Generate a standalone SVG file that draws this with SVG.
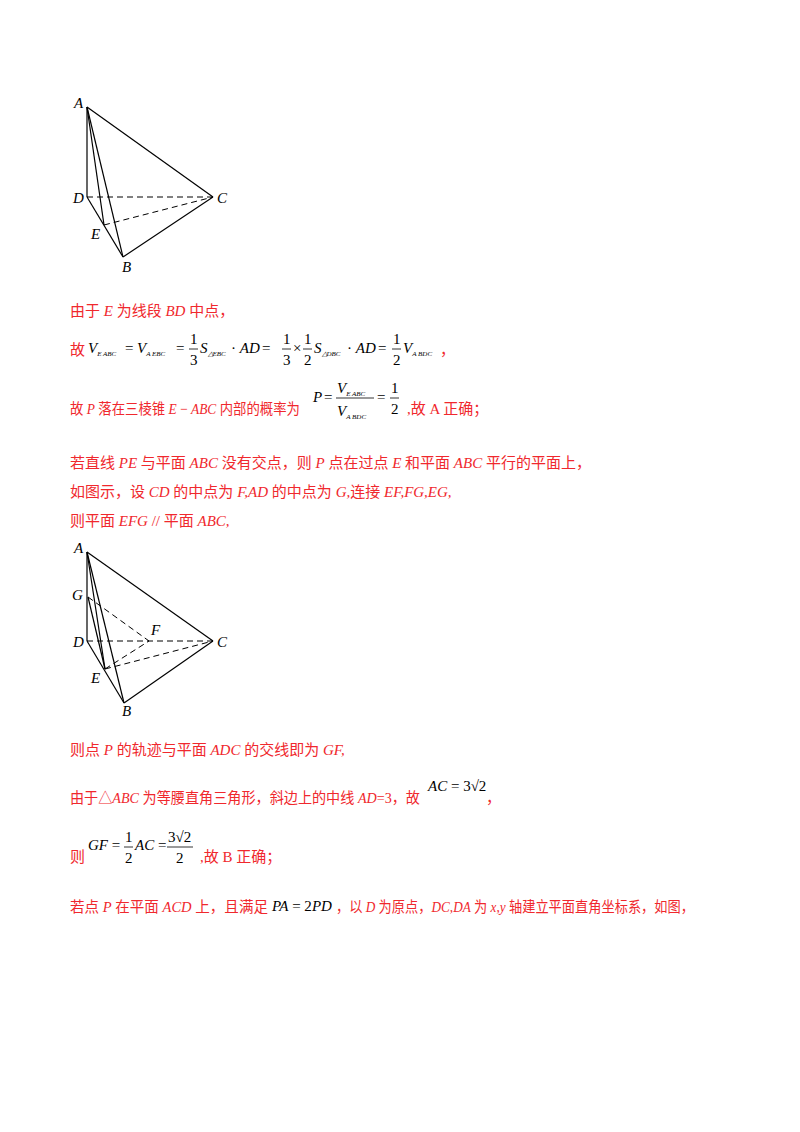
<svg xmlns="http://www.w3.org/2000/svg" width="800" height="1132" viewBox="0 0 800 1132">
<style>
.l{stroke:#000;stroke-width:1.2;fill:none}
.d{stroke:#000;stroke-width:1;fill:none;stroke-dasharray:6,4}
.fl{stroke:#000;stroke-width:0.8}
.lb{font-family:"Liberation Serif",serif;font-style:italic;font-size:15px;fill:#000}
.r{font-family:"Liberation Serif","Noto Sans CJK SC",serif;font-size:15px;fill:#f0282d}
.i{font-style:italic;font-family:"Liberation Serif",serif}
.m{font-family:"Liberation Serif",serif;font-size:15px;fill:#000}
.s{font-size:7px;font-style:italic}
</style>
<rect width="800" height="1132" fill="#fff"/>
<g id="fig1">
<g id="connectors1">
<line class="l" x1="87" y1="107" x2="87" y2="197"/>
<line class="l" x1="87" y1="107" x2="213" y2="197"/>
<line class="l" x1="87" y1="107" x2="123" y2="257"/>
<line class="l" x1="87" y1="107" x2="104" y2="225"/>
<line class="l" x1="87" y1="197" x2="123" y2="257"/>
<line class="l" x1="123" y1="257" x2="213" y2="197"/>
<line class="d" x1="87" y1="197" x2="213" y2="197"/>
<line class="d" x1="104" y1="225" x2="213" y2="197"/>
</g>
<text class="lb" x="74" y="108">A</text>
<text class="lb" x="73" y="203">D</text>
<text class="lb" x="217" y="203">C</text>
<text class="lb" x="91" y="239">E</text>
<text class="lb" x="122" y="272">B</text>
</g>
<text class="r" x="70" y="316">由于 <tspan class="i">E</tspan> 为线段 <tspan class="i">BD</tspan> 中点，</text>
<text class="r" x="70" y="355">故</text>
<text class="m" x="88" y="353"><tspan class="i">V</tspan><tspan class="s" dy="3">E   ABC</tspan></text>
<text class="m" x="125" y="353">=</text>
<text class="m" x="137" y="353"><tspan class="i">V</tspan><tspan class="s" dy="3">A   EBC</tspan></text>
<text class="m" x="176" y="353">=</text>
<text class="m" x="190" y="344">1</text><line class="fl" x1="189" y1="349" x2="198" y2="349"/><text class="m" x="190" y="365">3</text>
<text class="m" x="200" y="353"><tspan class="i">S</tspan><tspan class="s" dy="3">△EBC</tspan></text>
<text class="m" x="231" y="353">· <tspan class="i">AD</tspan></text>
<text class="m" x="262" y="353">=</text>
<text class="m" x="283" y="344">1</text><line class="fl" x1="282" y1="349" x2="291" y2="349"/><text class="m" x="283" y="365">3</text>
<text class="m" x="293" y="353">×</text>
<text class="m" x="304" y="344">1</text><line class="fl" x1="303" y1="349" x2="312" y2="349"/><text class="m" x="304" y="365">2</text>
<text class="m" x="314" y="353"><tspan class="i">S</tspan><tspan class="s" dy="3">△DBC</tspan></text>
<text class="m" x="347" y="353">· <tspan class="i">AD</tspan></text>
<text class="m" x="378" y="353">=</text>
<text class="m" x="393" y="344">1</text><line class="fl" x1="392" y1="349" x2="401" y2="349"/><text class="m" x="393" y="365">2</text>
<text class="m" x="403" y="353"><tspan class="i">V</tspan><tspan class="s" dy="3">A   BDC</tspan></text>
<text class="r" x="440" y="355">，</text>
<text class="r" x="70" y="414" textLength="230" lengthAdjust="spacingAndGlyphs">故 <tspan class="i">P</tspan> 落在三棱锥 <tspan class="i">E</tspan> − <tspan class="i">ABC</tspan> 内部的概率为</text>
<text class="m" x="313" y="402"><tspan class="i">P</tspan></text>
<text class="m" x="324" y="402">=</text>
<text class="m" x="337" y="393"><tspan class="i">V</tspan><tspan class="s" dy="3">E   ABC</tspan></text>
<line class="fl" x1="336" y1="398" x2="374" y2="398"/>
<text class="m" x="337" y="416"><tspan class="i">V</tspan><tspan class="s" dy="3">A   BDC</tspan></text>
<text class="m" x="377" y="402">=</text>
<text class="m" x="391" y="393">1</text><line class="fl" x1="390" y1="398" x2="399" y2="398"/><text class="m" x="391" y="414">2</text>
<text class="r" x="407" y="414">,故 A 正确；</text>
<text class="r" x="70" y="468">若直线 <tspan class="i">PE</tspan> 与平面 <tspan class="i">ABC</tspan> 没有交点，则 <tspan class="i">P</tspan> 点在过点 <tspan class="i">E</tspan> 和平面 <tspan class="i">ABC</tspan> 平行的平面上，</text>
<text class="r" x="70" y="497">如图示，设 <tspan class="i">CD</tspan> 的中点为 <tspan class="i">F,AD</tspan> 的中点为 <tspan class="i">G,</tspan>连接 <tspan class="i">EF,FG,EG,</tspan></text>
<text class="r" x="70" y="526">则平面 <tspan class="i">EFG</tspan> // 平面  <tspan class="i">ABC,</tspan></text>
<g id="fig2">
<g id="connectors2">
<line class="l" x1="87" y1="552" x2="87" y2="641"/>
<line class="l" x1="87" y1="552" x2="213" y2="641"/>
<line class="l" x1="87" y1="552" x2="124" y2="703"/>
<line class="l" x1="87" y1="552" x2="105" y2="669"/>
<line class="l" x1="88" y1="597" x2="105" y2="669"/>
<line class="l" x1="87" y1="641" x2="124" y2="703"/>
<line class="l" x1="124" y1="703" x2="213" y2="641"/>
<line class="d" x1="88" y1="597" x2="149" y2="641"/>
<line class="d" x1="87" y1="641" x2="213" y2="641"/>
<line class="d" x1="105" y1="669" x2="149" y2="641"/>
<line class="d" x1="105" y1="669" x2="213" y2="641"/>
</g>
<text class="lb" x="74" y="553">A</text>
<text class="lb" x="72" y="600">G</text>
<text class="lb" x="73" y="647">D</text>
<text class="lb" x="151" y="635">F</text>
<text class="lb" x="217" y="647">C</text>
<text class="lb" x="91" y="683">E</text>
<text class="lb" x="122" y="716">B</text>
</g>
<text class="r" x="70" y="755">则点 <tspan class="i">P</tspan> 的轨迹与平面 <tspan class="i">ADC</tspan> 的交线即为 <tspan class="i">GF,</tspan></text>
<text class="r" x="70" y="803" textLength="350" lengthAdjust="spacingAndGlyphs">由于△<tspan class="i">ABC</tspan> 为等腰直角三角形，斜边上的中线 <tspan class="i">AD</tspan>=3，故</text>
<text class="m" x="428" y="791"><tspan class="i">AC</tspan> = 3√2</text>
<text class="r" x="486" y="803">，</text>
<text class="r" x="70" y="862">则</text>
<text class="m" x="88" y="850"><tspan class="i">GF</tspan> = </text>
<text class="m" x="125" y="842">1</text><line class="fl" x1="124" y1="847" x2="133" y2="847"/><text class="m" x="125" y="863">2</text>
<text class="m" x="135" y="850"><tspan class="i">AC</tspan> = </text>
<text class="m" x="168" y="842">3√2</text><line class="fl" x1="167" y1="847" x2="193" y2="847"/><text class="m" x="176" y="863">2</text>
<text class="r" x="200" y="862">,故 B 正确；</text>
<text class="r" x="70" y="912" textLength="198" lengthAdjust="spacingAndGlyphs">若点 <tspan class="i">P</tspan> 在平面 <tspan class="i">ACD</tspan> 上，且满足</text>
<text class="m" x="272" y="911"><tspan class="i">PA</tspan> = 2<tspan class="i">PD</tspan></text>
<text class="r" x="336" y="912" textLength="358" lengthAdjust="spacingAndGlyphs">，以 <tspan class="i">D</tspan> 为原点，<tspan class="i">DC,DA</tspan> 为 <tspan class="i">x,y</tspan> 轴建立平面直角坐标系，如图，</text>
</svg>
